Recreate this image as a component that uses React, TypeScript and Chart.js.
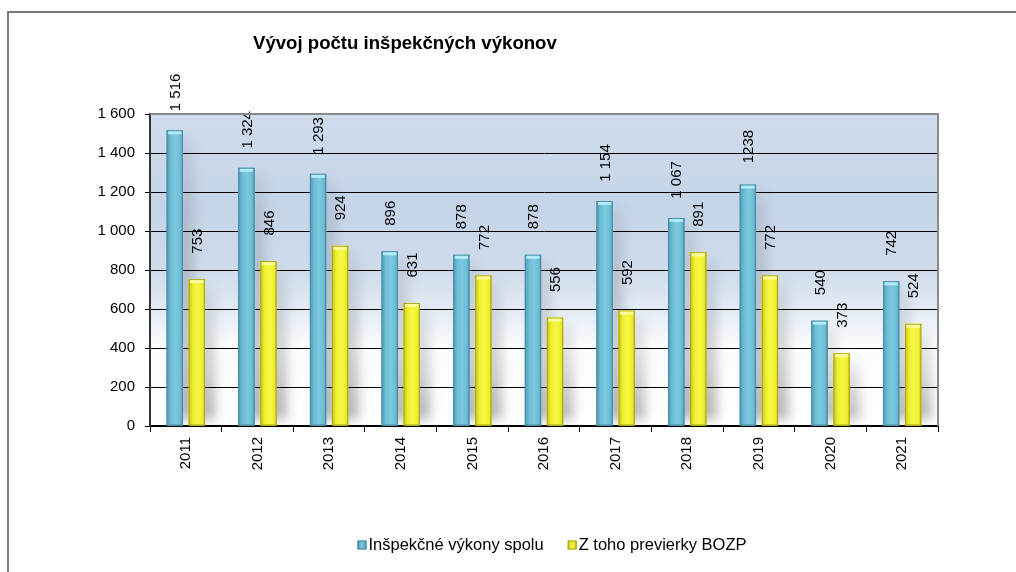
import React, { useEffect, useRef } from "react";
import { Chart, registerables } from "chart.js";

Chart.register(...registerables);

// ---- data ----
const chartTitle = "Vývoj počtu inšpekčných výkonov";
const years = ["2011", "2012", "2013", "2014", "2015", "2016", "2017", "2018", "2019", "2020", "2021"];
const seriesNames = ["Inšpekčné výkony spolu", "Z toho previerky BOZP"];
const totalInspections = [1516, 1324, 1293, 896, 878, 878, 1154, 1067, 1238, 540, 742];
const bozpInspections = [753, 846, 924, 631, 772, 556, 592, 891, 772, 373, 524];
const totalLabels = ["1 516", "1 324", "1 293", "896", "878", "878", "1 154", "1 067", "1238", "540", "742"];
const bozpLabels = ["753", "846", "924", "631", "772", "556", "592", "891", "772", "373", "524"];
const yMin = 0;
const yMax = 1600;
const yStep = 200;

// ---- styles ----
const FONT = "'Liberation Sans', Arial, sans-serif";
const barStyles = [
  { base: "#6cbcd6", edge: "#4b9bb5", mid: "#7cc9df", border: "#4a8ca3", cap: "#b2ecf6" },
  { base: "#eeee30", edge: "#c4c21a", mid: "#f8f844", border: "#a9a716", cap: "#fbfb9c" },
];

const fmtThousands = (v: number) => {
  const s = String(Math.round(v));
  return s.replace(/\B(?=(\d{3})+(?!\d))/g, " ");
};

const decorPlugin = {
  id: "decor",
  beforeDraw(chart: any) {
    const { ctx, chartArea: a } = chart;
    ctx.save();
    // outer frame (top + left visible)
    ctx.strokeStyle = "#7a7a7a";
    ctx.lineWidth = 2;
    ctx.beginPath();
    ctx.moveTo(8, chart.height);
    ctx.lineTo(8, 12);
    ctx.lineTo(chart.width, 12);
    ctx.stroke();
    // plot background gradient
    const g = ctx.createLinearGradient(0, a.top, 0, a.bottom);
    g.addColorStop(0, "#d0dcec");
    g.addColorStop(0.3, "#c5d4e8");
    g.addColorStop(0.5, "#cfdcec");
    g.addColorStop(0.62, "#e2eaf4");
    g.addColorStop(0.74, "#fbfcfe");
    g.addColorStop(1, "#ffffff");
    ctx.fillStyle = g;
    ctx.fillRect(a.left, a.top, a.right - a.left, a.bottom - a.top);
    ctx.restore();
  },
  beforeDatasetsDraw(chart: any) {
    const { ctx, chartArea: a } = chart;
    ctx.save();
    ctx.beginPath();
    ctx.rect(a.left, a.top, a.right - a.left, a.bottom - a.top);
    ctx.clip();
    ctx.filter = "blur(6px)";
    chart.data.datasets.forEach((_: any, di: number) => {
      const meta = chart.getDatasetMeta(di);
      meta.data.forEach((el: any) => {
        const { x, y, base, width } = el.getProps(["x", "y", "base", "width"], true);
        const top = y + 8;
        const sg = ctx.createLinearGradient(0, top, 0, base);
        sg.addColorStop(0, "rgba(0,0,0,0.06)");
        sg.addColorStop(0.6, "rgba(0,0,0,0.2)");
        sg.addColorStop(1, "rgba(0,0,0,0.32)");
        ctx.fillStyle = sg;
        ctx.fillRect(x - width / 2 + 8, top, width + 2, base - top - 6);
      });
    });
    ctx.restore();
  },
  afterDatasetDraw(chart: any, args: any) {
    const { ctx } = chart;
    const st = barStyles[args.index];
    ctx.save();
    args.meta.data.forEach((el: any) => {
      const { x, y, base, width } = el.getProps(["x", "y", "base", "width"], true);
      const l = x - width / 2;
      const g = ctx.createLinearGradient(l, 0, l + width, 0);
      g.addColorStop(0, st.edge);
      g.addColorStop(0.25, st.base);
      g.addColorStop(0.55, st.mid);
      g.addColorStop(0.85, st.base);
      g.addColorStop(1, st.edge);
      ctx.fillStyle = g;
      ctx.fillRect(l, y, width, base - y);
      ctx.strokeStyle = st.border;
      ctx.lineWidth = 1;
      ctx.strokeRect(l + 0.5, y + 0.5, width - 1, base - y - 1);
      ctx.fillStyle = st.cap;
      ctx.fillRect(l + 1.5, y + 1, width - 3, 3);
    });
    ctx.restore();
  },
  afterDatasetsDraw(chart: any) {
    const { ctx } = chart;
    const labelSets = [totalLabels, bozpLabels];
    ctx.save();
    ctx.fillStyle = "#000";
    ctx.font = `15px ${FONT}`;
    ctx.textAlign = "center";
    ctx.textBaseline = "middle";
    chart.data.datasets.forEach((_: any, di: number) => {
      const meta = chart.getDatasetMeta(di);
      meta.data.forEach((el: any, i: number) => {
        const { x, y } = el.getProps(["x", "y"], true);
        ctx.save();
        ctx.translate(x + 1, y - 38);
        ctx.rotate(-Math.PI / 2);
        ctx.fillText(labelSets[di][i], 0, 0);
        ctx.restore();
      });
    });
    ctx.restore();
  },
  afterDraw(chart: any) {
    const { ctx, chartArea: a } = chart;
    ctx.save();
    // plot frame top & right
    ctx.strokeStyle = "#8a8a8a";
    ctx.lineWidth = 2;
    ctx.beginPath();
    ctx.moveTo(a.left, a.top);
    ctx.lineTo(a.right, a.top);
    ctx.lineTo(a.right, a.bottom);
    ctx.stroke();
    // title
    ctx.fillStyle = "#000";
    ctx.font = `bold 18.6px ${FONT}`;
    ctx.textAlign = "left";
    ctx.textBaseline = "middle";
    ctx.fillText(chartTitle, 253, 44);
    // legend
    ctx.font = `16.5px ${FONT}`;
    const box = 9;
    const gapBox = 2;
    const gapItems = 24;
    const widths = seriesNames.map((n) => ctx.measureText(n).width);
    const total = widths.reduce((s, w) => s + box + gapBox + w, 0) + gapItems;
    let cx = 552 - total / 2;
    const ly = 545;
    seriesNames.forEach((n, i) => {
      const st = barStyles[i];
      const g = ctx.createLinearGradient(cx, 0, cx + box, 0);
      g.addColorStop(0, st.edge);
      g.addColorStop(0.5, st.mid);
      g.addColorStop(1, st.edge);
      ctx.fillStyle = g;
      ctx.fillRect(cx, ly - box / 2, box, box);
      ctx.strokeStyle = st.border;
      ctx.lineWidth = 1;
      ctx.strokeRect(cx + 0.5, ly - box / 2 + 0.5, box - 1, box - 1);
      cx += box + gapBox;
      ctx.fillStyle = "#000";
      ctx.fillText(n, cx, ly);
      cx += widths[i] + gapItems;
    });
    ctx.restore();
  },
};

export default function App() {
  const ref = useRef<HTMLCanvasElement | null>(null);
  useEffect(() => {
    if (!ref.current) return;
    const chart = new Chart(ref.current, {
      type: "bar",
      data: {
        labels: years,
        datasets: [
          {
            label: seriesNames[0],
            data: totalInspections,
            backgroundColor: barStyles[0].base,
            categoryPercentage: 0.615,
            barPercentage: 0.74,
          },
          {
            label: seriesNames[1],
            data: bozpInspections,
            backgroundColor: barStyles[1].base,
            categoryPercentage: 0.615,
            barPercentage: 0.74,
          },
        ],
      },
      options: {
        responsive: false,
        animation: false,
        layout: { padding: { top: 114, right: 78, left: 0, bottom: 0 } },
        plugins: {
          legend: { display: false },
          title: { display: false },
          tooltip: { enabled: false },
        },
        scales: {
          x: {
            offset: true,
            grid: {
              offset: true,
              drawOnChartArea: false,
              drawTicks: true,
              tickLength: 6,
              color: "#000",
            },
            border: { display: true, color: "#000", width: 2 },
            ticks: {
              minRotation: 90,
              maxRotation: 90,
              padding: 5,
              color: "#000",
              font: { family: FONT, size: 15 },
            },
            afterFit: (scale: any) => {
              scale.height = 146;
            },
          },
          y: {
            min: yMin,
            max: yMax,
            grid: {
              color: "#000",
              lineWidth: 1,
              drawTicks: true,
              tickLength: 5,
            },
            border: { display: true, color: "#333", width: 2 },
            ticks: {
              stepSize: yStep,
              padding: 10,
              color: "#000",
              font: { family: FONT, size: 15 },
              callback: (v: any) => fmtThousands(Number(v)),
            },
            afterFit: (scale: any) => {
              scale.width = 150;
            },
          },
        },
      },
      plugins: [decorPlugin],
    });
    return () => chart.destroy();
  }, []);
  return (
    <div style={{ position: "fixed", left: 0, top: 0, width: 1016, height: 572, background: "#fff" }}>
      <canvas ref={ref} width={1016} height={572} style={{ display: "block" }} />
    </div>
  );
}
